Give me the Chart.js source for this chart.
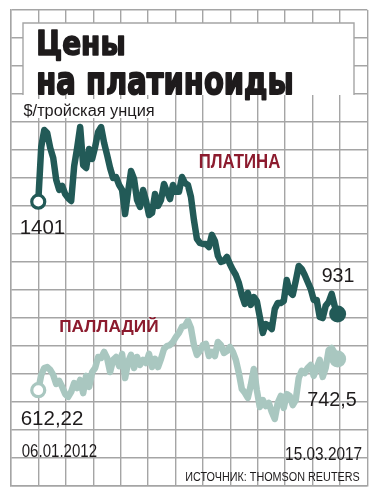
<!DOCTYPE html>
<html>
<head>
  <meta charset="utf-8">
  <title>Цены на платиноиды</title>
  <script src="https://cdn.jsdelivr.net/npm/chart.js"></script>
  <style>
    html, body { margin: 0; padding: 0; background: #fff; }
    canvas { display: block; }
  </style>
</head>
<body>
  <canvas id="chart" width="377" height="501"></canvas>

  <script>
    // weekly closes, 06.01.2012 .. 15.03.2017, $/troy oz
    const platinum = [
      1401, 1630, 1701, 1688, 1626, 1584, 1492, 1450, 1467, 1433,
      1416, 1404, 1550, 1626, 1713, 1554, 1542, 1621, 1580, 1630,
      1693, 1713, 1647, 1596, 1542, 1500, 1504, 1471, 1450, 1349,
      1442, 1529, 1496, 1408, 1379, 1450, 1404, 1345, 1354, 1433,
      1383, 1408, 1475, 1442, 1412, 1471, 1442, 1442, 1504, 1479,
      1471, 1421, 1324, 1245, 1228, 1224, 1224, 1211, 1262, 1237,
      1174, 1149, 1153, 1170, 1140, 1115, 1094, 1061, 1011, 973,
      1019, 969, 1002, 985, 919, 852, 889, 881, 868, 952,
      977, 977, 985, 1073, 1023, 1011, 1069, 1132, 1119, 1094,
      1065, 1036, 990, 990, 919, 914, 965, 981, 1015, 965,
      931
    ];
    const palladium = [
      612.22, 676, 705, 709, 697, 676, 638, 651, 626, 596,
      584, 605, 642, 621, 655, 600, 672, 626, 688, 705,
      751, 747, 772, 747, 688, 739, 751, 713, 764, 663,
      730, 760, 705, 751, 718, 739, 726, 764, 709, 743,
      709, 743, 785, 797, 801, 814, 835, 852, 877, 881,
      903, 872, 801, 760, 776, 801, 806, 755, 772, 755,
      814, 801, 768, 776, 793, 772, 739, 684, 617, 601,
      580, 634, 701, 613, 542, 571, 546, 559, 521, 492,
      559, 588, 538, 596, 588, 550, 571, 663, 693, 684,
      705, 718, 672, 705, 739, 668, 705, 780, 789, 768,
      742.5
    ];
    const seriesNames = ['ПЛАТИНА', 'ПАЛЛАДИЙ'];
    const dateLabels = ['06.01.2012', '15.03.2017'];
    const titleLines = ['Цены', 'на платиноиды'];
    const unitLabel = '$/тройская унция';
    const sourceLabel = 'ИСТОЧНИК: THOMSON REUTERS';

    const fmt = v => String(v).replace('.', ',');

    const GRID = '#a5a5a5';
    const PT = '#225a57';
    const PD = '#a9c7c0';
    const RED = '#8c1b2e';
    const INK = '#1e1b1c';

    function evenTicks(n) {
      return axis => {
        const step = (axis.max - axis.min) / n;
        axis.ticks = Array.from({ length: n + 1 }, (_, i) => ({ value: axis.min + i * step }));
      };
    }

    // draw text so its ink fits a given box (left, right, top, baseline)
    function fitText(ctx, text, font, color, x0, x1, top, base, heavy) {
      ctx.save();
      ctx.font = font;
      ctx.textAlign = 'left';
      ctx.textBaseline = 'alphabetic';
      const m = ctx.measureText(text);
      const sx = (x1 - x0) / (m.actualBoundingBoxLeft + m.actualBoundingBoxRight);
      const sy = (base - top) / m.actualBoundingBoxAscent;
      ctx.translate(x0 + m.actualBoundingBoxLeft * sx, base);
      ctx.scale(sx, sy);
      ctx.fillStyle = color;
      ctx.fillText(text, 0, 0);
      if (heavy) {
        ctx.strokeStyle = color;
        ctx.lineWidth = heavy;
        ctx.lineJoin = 'round';
        ctx.strokeText(text, 0, 0);
      }
      ctx.restore();
    }

    const decor = {
      id: 'decor',
      afterDraw(chart) {
        const ctx = chart.ctx;
        // title box
        ctx.save();
        ctx.fillStyle = '#fff';
        ctx.fillRect(23, 23, 331, 72);
        ctx.strokeStyle = GRID;
        ctx.lineWidth = 1.4;
        ctx.beginPath();
        ctx.moveTo(23, 95); ctx.lineTo(23, 23); ctx.lineTo(354, 23); ctx.lineTo(354, 95);
        ctx.stroke();
        ctx.fillRect(22, 99, 135, 19);
        ctx.restore();

        const bold = 'bold 32px "DejaVu Sans"';
        fitText(ctx, titleLines[0], bold, INK, 38, 124, 31.5, 55.3, 1.6);
        fitText(ctx, titleLines[1], bold, INK, 38, 292, 72, 93.5, 1.6);
        fitText(ctx, unitLabel, '16px "Liberation Sans"', INK, 23.5, 154, 102.5, 115.5);

        const narrowB = 'bold 20px "Liberation Sans Narrow", "Liberation Sans"';
        fitText(ctx, seriesNames[0], narrowB, RED, 199.5, 280, 153, 167.5);
        fitText(ctx, seriesNames[1], narrowB, RED, 60, 158.3, 316.7, 332.3);

        const num = '20px "Liberation Sans"';
        fitText(ctx, fmt(platinum[0]), num, INK, 20.7, 65, 220, 234);
        fitText(ctx, fmt(platinum[platinum.length - 1]), num, INK, 321.7, 354.3, 267.7, 281.7);
        fitText(ctx, fmt(palladium[0]), num, INK, 21.7, 83.3, 411, 425);
        fitText(ctx, fmt(palladium[palladium.length - 1]), num, INK, 308.3, 356.7, 391.7, 406);

        const narrow = '17px "Liberation Sans Narrow", "Liberation Sans"';
        fitText(ctx, dateLabels[0], narrow, INK, 21.7, 96.7, 444, 456.7);
        fitText(ctx, dateLabels[1], narrow, INK, 286, 361.7, 446.7, 460);
        fitText(ctx, sourceLabel, '13px "Liberation Sans Narrow", "Liberation Sans"', INK, 186, 360, 471.7, 481);
      }
    };

    const endPoint = (first, last) => c => c.dataIndex === 0 ? first : (c.dataIndex === c.dataset.data.length - 1 ? last : 0);

    const lineSet = (name, values, color) => ({
      label: name,
      data: values.map((v, i) => ({ x: i, y: v })),
      borderColor: color,
      borderWidth: 6.5,
      borderJoinStyle: 'round',
      borderCapStyle: 'round',
      tension: 0,
      pointRadius: endPoint(6.5, 8.5),
      pointBorderWidth: endPoint(3.2, 0),
      pointBorderColor: color,
      pointBackgroundColor: c => c.dataIndex === 0 ? '#fff' : color
    });

    const axisStyle = {
      type: 'linear',
      ticks: { display: false },
      grid: { color: GRID, lineWidth: 1.4, drawTicks: false },
      border: { color: GRID, width: 1.4 }
    };

    new Chart(document.getElementById('chart'), {
      type: 'line',
      data: {
        datasets: [
          lineSet(seriesNames[0], platinum, PT),
          lineSet(seriesNames[1], palladium, PD)
        ]
      },
      options: {
        responsive: false,
        animation: false,
        events: [],
        layout: { padding: { left: 11, right: 9, top: 10, bottom: 15 } },
        plugins: { legend: { display: false }, tooltip: { enabled: false } },
        scales: {
          x: Object.assign({}, axisStyle, {
            min: -9.1, max: 109.9,
            afterBuildTicks: evenTicks(13),
            afterFit: s => { s.height = 0; }
          }),
          y: Object.assign({}, axisStyle, {
            min: 211.3, max: 2202.9,
            afterBuildTicks: evenTicks(17),
            afterFit: s => { s.width = 0; }
          })
        }
      },
      plugins: [decor]
    });
  </script>
</body>
</html>
